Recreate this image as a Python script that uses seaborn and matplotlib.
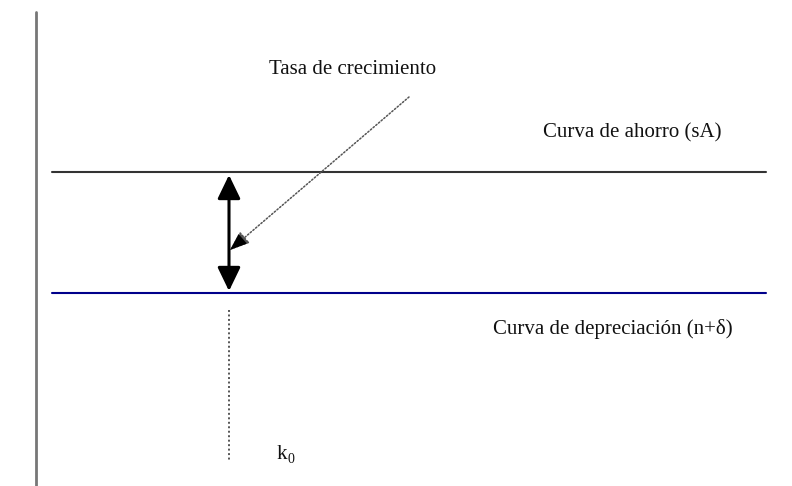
"""
Diagrama de crecimiento: curva de ahorro vs curva de depreciación
"""

import matplotlib
matplotlib.use('Agg')
import matplotlib.pyplot as plt
import seaborn as sns

# niveles de las curvas (coordenadas en pixeles de la imagen)
curve_x = [52, 766]
ahorro_y = [172, 172]
depreciacion_y = [293, 293]

# eje vertical y marca de k0
axis_x = [36, 36]
axis_y = [12, 486]
k0_x = [229, 229]
k0_y = [310, 462]

# flecha de la tasa de crecimiento
gap_top = 175
gap_bottom = 291
pointer_start = (409, 97)
pointer_end = (230, 250)

labels = {
    'Tasa de crecimiento': (353, 69),
    'Curva de ahorro (sA)': (632, 133),
    'Curva de depreciación (n+δ)': (613, 329),
}


def line(ax, x, y, **kw):
    # estimator=None evita que seaborn agregue los puntos con igual x
    sns.lineplot(x=x, y=y, ax=ax, estimator=None, sort=False, **kw)


def main():
    sns.set_style('white')
    plt.rcParams['font.family'] = ['Liberation Serif', 'DejaVu Serif']

    fig = plt.figure(figsize=(7.92, 4.86), dpi=100)
    ax = fig.add_axes([0, 0, 1, 1])
    ax.set_xlim(0, 792)
    ax.set_ylim(486, 0)
    ax.axis('off')

    # eje vertical izquierdo
    line(ax, axis_x, axis_y, color='#777777', linewidth=2.0)

    # curvas horizontales
    line(ax, curve_x, ahorro_y, color='#333333', linewidth=1.5)
    line(ax, curve_x, depreciacion_y, color='#00008b', linewidth=1.5)

    # linea punteada en k0
    line(ax, k0_x, k0_y, color='#555555', linewidth=1.4,
         linestyle=(0, (1, 1.3)))

    # doble flecha entre las curvas
    ax.annotate('', xy=(229, gap_top), xytext=(229, gap_bottom),
                arrowprops=dict(arrowstyle='<|-|>,head_length=1.45,head_width=0.7',
                                color='black', lw=2.2, shrinkA=0, shrinkB=0))

    # flecha punteada que señala la tasa
    ax.annotate('', xy=pointer_end, xytext=pointer_start,
                arrowprops=dict(arrowstyle='-|>,head_length=1.2,head_width=0.45',
                                color='#555555', lw=1.1, linestyle=(0, (1, 1.3)),
                                shrinkA=0, shrinkB=0))
    ax.annotate('', xy=pointer_end, xytext=(238, 243),
                arrowprops=dict(arrowstyle='-|>,head_length=1.2,head_width=0.45',
                                color='black', lw=0.1, shrinkA=0, shrinkB=0))

    for text, (x, y) in labels.items():
        ax.text(x, y, text, ha='center', va='center', fontsize=15,
                color='#111111')

    ax.text(277, 454, 'k', ha='left', va='center', fontsize=15, color='#111111')
    ax.text(287.5, 459, '0', ha='left', va='center', fontsize=10, color='#111111')

    fig.savefig('out.png', dpi=100)


if __name__ == '__main__':
    main()
